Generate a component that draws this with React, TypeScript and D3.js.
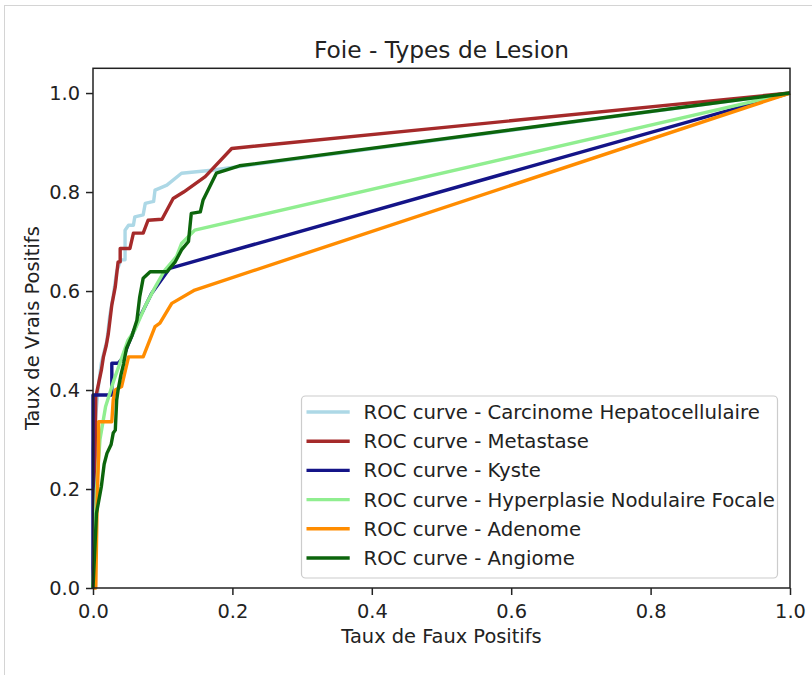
import React, { useEffect, useRef } from "react";
import * as d3 from "d3";

// ROC curves (false positive rate / true positive rate)
const carcinomeFpr = [0, 0, 0.004, 0.008, 0.012, 0.02, 0.024, 0.029, 0.034, 0.04, 0.046, 0.046, 0.051, 0.058, 0.06, 0.072, 0.075, 0.087, 0.089, 0.096, 0.106, 0.127, 0.17, 1];
const carcinomeTpr = [0, 0.28, 0.35, 0.41, 0.455, 0.5, 0.55, 0.59, 0.64, 0.663, 0.663, 0.723, 0.733, 0.733, 0.75, 0.754, 0.777, 0.781, 0.804, 0.808, 0.814, 0.838, 0.844, 1];

const metastaseFpr = [0, 0.003, 0.004, 0.008, 0.012, 0.015, 0.019, 0.022, 0.027, 0.032, 0.036, 0.039, 0.039, 0.053, 0.058, 0.072, 0.079, 0.099, 0.115, 0.13, 0.161, 0.199, 1];
const metastaseTpr = [0, 0.27, 0.386, 0.413, 0.44, 0.467, 0.49, 0.514, 0.572, 0.609, 0.659, 0.659, 0.686, 0.686, 0.717, 0.717, 0.743, 0.745, 0.787, 0.8, 0.831, 0.888, 1];

const kysteFpr = [0, 0, 0.027, 0.027, 0.036, 0.044, 0.051, 0.065, 0.084, 0.11, 1];
const kysteTpr = [0, 0.39, 0.39, 0.454, 0.454, 0.467, 0.494, 0.541, 0.595, 0.646, 1];

const hnfFpr = [0, 0.005, 0.01, 0.018, 0.03, 0.04, 0.05, 0.06, 0.075, 0.09, 0.103, 0.12, 0.127, 0.146, 1];
const hnfTpr = [0, 0.2, 0.3, 0.366, 0.42, 0.46, 0.5, 0.521, 0.57, 0.61, 0.642, 0.67, 0.696, 0.723, 1];

const adenomeFpr = [0, 0.004, 0.006, 0.008, 0.008, 0.027, 0.029, 0.032, 0.041, 0.051, 0.072, 0.089, 0.096, 0.113, 0.146, 1];
const adenomeTpr = [0, 0, 0.178, 0.269, 0.336, 0.336, 0.38, 0.4, 0.407, 0.467, 0.467, 0.528, 0.535, 0.575, 0.602, 1];

const angiomeFpr = [0, 0.005, 0.012, 0.016, 0.02, 0.026, 0.029, 0.032, 0.034, 0.036, 0.04, 0.044, 0.048, 0.056, 0.063, 0.067, 0.072, 0.082, 0.106, 0.118, 0.127, 0.137, 0.141, 0.154, 0.158, 0.177, 0.21, 1];
const angiomeTpr = [0, 0.151, 0.205, 0.25, 0.272, 0.29, 0.313, 0.319, 0.38, 0.4, 0.43, 0.454, 0.484, 0.51, 0.541, 0.588, 0.626, 0.639, 0.639, 0.659, 0.683, 0.7, 0.757, 0.76, 0.784, 0.838, 0.853, 1];

const labels = [
  "ROC curve - Carcinome Hepatocellulaire",
  "ROC curve - Metastase",
  "ROC curve - Kyste",
  "ROC curve - Hyperplasie Nodulaire Focale",
  "ROC curve - Adenome",
  "ROC curve - Angiome",
];
const colors = ["#add8e6", "#a52a2a", "#141488", "#90ee90", "#ff8c00", "#0c650c"];
const tickValues = [0, 0.2, 0.4, 0.6, 0.8, 1.0];

const series = [
  [carcinomeFpr, carcinomeTpr],
  [metastaseFpr, metastaseTpr],
  [kysteFpr, kysteTpr],
  [hnfFpr, hnfTpr],
  [adenomeFpr, adenomeTpr],
  [angiomeFpr, angiomeTpr],
];

const App = () => {
  const svgRef = useRef<SVGSVGElement>(null);

  useEffect(() => {
    const width = 812;
    const height = 675;
    const font = "DejaVu Sans, sans-serif";
    const fs = 19.4;

    const svg = d3.select(svgRef.current);
    svg.selectAll("*").remove();
    svg.attr("width", width).attr("height", height);

    // light frame around the figure
    svg.append("line").attr("x1", 4).attr("x2", width).attr("y1", 5.5).attr("y2", 5.5)
      .style("stroke", "#d4d4d4");
    svg.append("line").attr("x1", 4.5).attr("x2", 4.5).attr("y1", 5).attr("y2", height)
      .style("stroke", "#d4d4d4");

    const x = d3.scaleLinear().domain([0, 1]).range([93, 790]);
    const y = d3.scaleLinear().domain([0, 1.05]).range([588, 68.3]);

    const line = d3
      .line<[number, number]>()
      .x((d) => x(d[0]))
      .y((d) => y(d[1]));

    const plot = svg.append("g");
    series.forEach(([fpr, tpr], i) => {
      const pts = fpr.map((f, j) => [f, tpr[j]] as [number, number]);
      plot.append("path")
        .attr("d", line(pts))
        .style("fill", "none")
        .style("stroke", colors[i])
        .style("stroke-width", 3.4)
        .style("stroke-linejoin", "round");
    });

    // axes
    const xAxis = d3.axisBottom(x).tickValues(tickValues).tickFormat(d3.format(".1f"))
      .tickSize(7).tickPadding(9);
    svg.append("g").attr("transform", `translate(0,${y(0)})`).call(xAxis)
      .call((g) => g.select(".domain").remove());

    const yAxis = d3.axisLeft(y).tickValues(tickValues).tickFormat(d3.format(".1f"))
      .tickSize(7).tickPadding(6);
    svg.append("g").attr("transform", `translate(${x(0)},0)`).call(yAxis)
      .call((g) => g.select(".domain").remove());

    svg.selectAll(".tick line").style("stroke", "#222").style("stroke-width", 1.5);
    svg.selectAll(".tick text")
      .style("font-family", font)
      .style("font-size", `${fs}px`)
      .style("fill", "#222");

    // spines
    svg.append("rect")
      .attr("x", x(0)).attr("y", y(1.05))
      .attr("width", x(1) - x(0)).attr("height", y(0) - y(1.05))
      .style("fill", "none").style("stroke", "#222").style("stroke-width", 1.5);

    // title and axis labels
    svg.append("text").attr("x", (x(0) + x(1)) / 2).attr("y", 58.3)
      .attr("text-anchor", "middle")
      .style("font-family", font).style("font-size", "23.3px").style("fill", "#222")
      .text("Foie - Types de Lesion");

    svg.append("text").attr("x", (x(0) + x(1)) / 2).attr("y", 643)
      .attr("text-anchor", "middle")
      .style("font-family", font).style("font-size", `${fs}px`).style("fill", "#222")
      .text("Taux de Faux Positifs");

    svg.append("text")
      .attr("transform", `translate(38.5,${(y(0) + y(1.05)) / 2}) rotate(-90)`)
      .attr("text-anchor", "middle")
      .style("font-family", font).style("font-size", `${fs}px`).style("fill", "#222")
      .text("Taux de Vrais Positifs");

    // legend
    const legend = svg.append("g");
    legend.append("rect")
      .attr("x", 301.5).attr("y", 396).attr("width", 476).attr("height", 182)
      .attr("rx", 4)
      .style("fill", "#fff").style("fill-opacity", 0.8)
      .style("stroke", "#cccccc").style("stroke-width", 1.2);

    labels.forEach((lab, i) => {
      const cy = 412 + i * 29.2;
      legend.append("line")
        .attr("x1", 306.5).attr("x2", 349.7).attr("y1", cy).attr("y2", cy)
        .style("stroke", colors[i]).style("stroke-width", 3.4);
      legend.append("text").attr("x", 363.6).attr("y", cy + 7)
        .style("font-family", font).style("font-size", "19.7px").style("fill", "#222")
        .text(lab);
    });
  }, []);

  return (
    <svg
      ref={svgRef}
      style={{ position: "absolute", left: 0, top: 0, display: "block", background: "#fff" }}
    ></svg>
  );
};

export default App;
